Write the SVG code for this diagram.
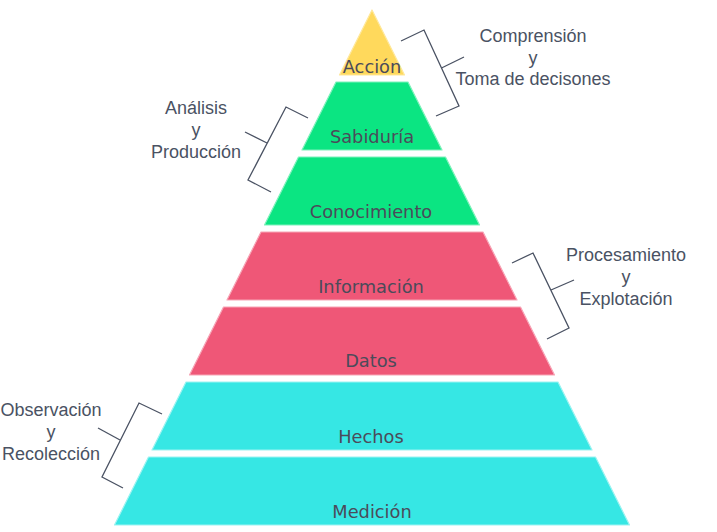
<svg xmlns="http://www.w3.org/2000/svg" width="717" height="532" viewBox="0 0 717 532">
  <style>
    .tier { stroke-width: 1.2; stroke-linejoin: round; }
    .yellow { fill: #FFD95C; stroke: #FFE89A; }
    .green { fill: #0BE582; stroke: #7FF2BC; }
    .red { fill: #EF5777; stroke: #F7A5B6; }
    .cyan { fill: #36E7E4; stroke: #9BF3F1; }
    .tier-label { font-family: "DejaVu Sans", sans-serif; font-size: 17.8px; fill: #4B4B5A; text-anchor: middle; }
    .side { font-family: "Liberation Sans", Arial, sans-serif; font-size: 18px; fill: #4A5263; text-anchor: middle; }
    .bracket { fill: none; stroke: #4A5263; stroke-width: 1.3; stroke-linejoin: miter; }
  </style>

  <!-- pyramid tiers, top to bottom; sides follow x = 372 ± (y - 10) / 2 -->
  <g id="accion">
    <polygon class="tier yellow" points="372,10 404.5,75 339.5,75"/>
    <text class="tier-label" x="372" y="73">Acción</text>
  </g>
  <g id="sabiduria">
    <polygon class="tier green" points="336,82 408,82 442,150 302,150"/>
    <text class="tier-label" x="372" y="143">Sabiduría</text>
  </g>
  <g id="conocimiento">
    <polygon class="tier green" points="298.5,157 445.5,157 479.5,225 264.5,225"/>
    <text class="tier-label" x="371" y="218">Conocimiento</text>
  </g>
  <g id="informacion">
    <polygon class="tier red" points="261,232 483,232 517,300 227,300"/>
    <text class="tier-label" x="371" y="293">Información</text>
  </g>
  <g id="datos">
    <polygon class="tier red" points="223.5,307 520.5,307 554.5,375 189.5,375"/>
    <text class="tier-label" x="371" y="367">Datos</text>
  </g>
  <g id="hechos">
    <polygon class="tier cyan" points="186,382 558,382 592,450 152,450"/>
    <text class="tier-label" x="371" y="443">Hechos</text>
  </g>
  <g id="medicion">
    <polygon class="tier cyan" points="148.5,457 595.5,457 629.5,525 114.5,525"/>
    <text class="tier-label" x="372" y="518">Medición</text>
  </g>

  <!-- group captions -->
  <g id="comprension">
    <text class="side" x="533" y="42">Comprensión</text>
    <text class="side" x="533" y="64">y</text>
    <text class="side" x="533" y="85">Toma de decisones</text>
  </g>
  <g id="analisis">
    <text class="side" x="196" y="114">Análisis</text>
    <text class="side" x="196" y="136">y</text>
    <text class="side" x="196" y="158">Producción</text>
  </g>
  <g id="procesamiento">
    <text class="side" x="626" y="261">Procesamiento</text>
    <text class="side" x="626" y="283">y</text>
    <text class="side" x="626" y="305">Explotación</text>
  </g>
  <g id="observacion">
    <text class="side" x="51" y="416">Observación</text>
    <text class="side" x="51" y="438">y</text>
    <text class="side" x="51" y="460">Recolección</text>
  </g>

  <!-- brackets linking captions to tiers -->
  <g id="connectors">
    <polyline class="bracket" points="401,41 424,30 459,106 436,116"/>
    <line class="bracket" x1="441.5" y1="68" x2="464" y2="57"/>

    <polyline class="bracket" points="308,118 286,107 248,180 271,192"/>
    <line class="bracket" x1="267" y1="143" x2="245" y2="132"/>

    <polyline class="bracket" points="512,263 533,253 569,328 547,339"/>
    <line class="bracket" x1="551" y1="290" x2="574" y2="280"/>

    <polyline class="bracket" points="162,414 139,403 102,477 123,488"/>
    <line class="bracket" x1="120" y1="440" x2="98" y2="428"/>
  </g>
</svg>
